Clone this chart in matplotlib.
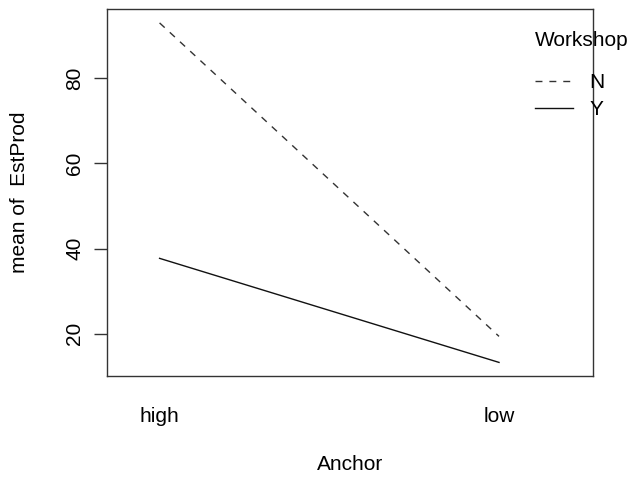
import matplotlib
matplotlib.use('Agg')
import matplotlib.pyplot as plt

# interaction plot: mean of EstProd by Anchor and Workshop
anchor_levels = ['high', 'low']
workshop_levels = ['N', 'Y']
mean_n = [92.9, 19.4]
mean_y = [37.7, 13.3]

plt.rcParams['font.family'] = ['Liberation Sans', 'DejaVu Sans']
fs = 15

fig = plt.figure(figsize=(6.29, 4.78), dpi=100)
fig.patch.set_facecolor('white')
ax = fig.add_axes([0.1706, 0.2134, 0.7717, 0.7671])

xpos = list(range(1, len(anchor_levels) + 1))
ln_n, = ax.plot(xpos, mean_n, color='#333333', lw=1.0, ls=(0, (5, 5)), label=workshop_levels[0])
ln_y, = ax.plot(xpos, mean_y, color='#111111', lw=1.0, label=workshop_levels[1])

ax.set_xlim(0.846, 2.276)
ax.margins(y=0.04)
ax.autoscale_view()

ax.set_xticks(xpos)
ax.set_xticklabels(anchor_levels, fontsize=fs)
ax.tick_params(axis='x', length=0, pad=22)
ax.set_yticks([20, 40, 60, 80])
ax.set_yticklabels(['20', '40', '60', '80'], fontsize=fs, rotation=90, va='center')
ax.tick_params(axis='y', length=9.5, width=1.0, pad=7, color='#333333')

for sp in ax.spines.values():
    sp.set_linewidth(1.0)
    sp.set_color('#333333')

ax.set_xlabel('Anchor', fontsize=fs)
ax.xaxis.set_label_coords(0.5, -0.215)
ax.set_ylabel('mean of  EstProd', fontsize=fs)
ax.yaxis.set_label_coords(-0.161, 0.5)

# legend to the right, title as separate text like R's interaction.plot
ax.text(535 / 629, 1 - 40 / 478, 'Workshop', transform=fig.transFigure,
        fontsize=fs, ha='left', va='center')
ax.legend(handles=[ln_n, ln_y], loc='upper left', bbox_to_anchor=(535 / 629, 1 - 73 / 478),
          bbox_transform=fig.transFigure, frameon=False, fontsize=fs,
          borderpad=0, borderaxespad=0, handlelength=1.8, handletextpad=0.8,
          labelspacing=0.4)

fig.savefig('out.png', dpi=100, facecolor='white')
